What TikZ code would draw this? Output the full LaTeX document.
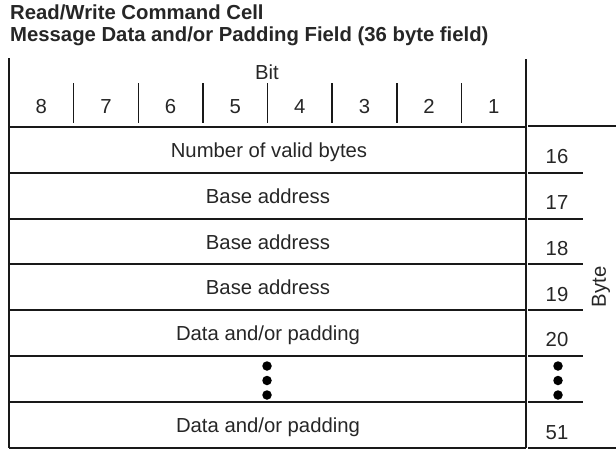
\documentclass[tikz,border=0pt]{standalone}
\usepackage{fontspec}
\setmainfont{Liberation Sans}
\begin{document}
\begin{tikzpicture}[x=1pt,y=-1pt,
  ln/.style={line width=1.5pt,black!90},
  thin/.style={line width=1.2pt,black!90},
  txt/.style={font=\fontsize{20.3}{22}\selectfont,inner sep=0pt,anchor=base,text=black!85},
  ttl/.style={font=\fontsize{20.3}{22}\selectfont\bfseries,inner sep=0pt,anchor=base west,text=black!85},
  dot/.style={circle,fill=black,inner sep=0pt,minimum size=9.5pt}]
\useasboundingbox (0,0) rectangle (616,450);
% titles
\node[ttl] (t1) at (10,19) {Read/Write Command Cell};
\node[ttl] (t2) at (10,41) {Message Data and/or Padding Field (36 byte field)};
% outer verticals
\draw[ln] (9,58) -- (9,448);
\draw[ln] (526,59) -- (526,448);
% header dividers
\foreach \i in {1,...,7} \draw[ln] ({9+64.625*\i},83) -- ({9+64.625*\i},123);
\node[txt] (bit) at (267,79) {Bit};
\foreach \n [count=\i from 0] in {8,7,6,5,4,3,2,1}
  \node[txt] (b\n) at ({9+64.625*\i+32.3},113) {\n};
% table horizontal lines
\foreach \y in {127,173,219,264,310,356,402,448} \draw[ln] (9,\y) -- (526,\y);
% right column lines
\draw[thin] (528,126) -- (616,126);
\draw[thin] (528,448) -- (616,448);
\foreach \y in {173,219,264,310,356,402} \draw[thin] (528,\y) -- (583,\y);
% row texts
\node[txt] (r1) at (269,157) {Number of valid bytes};
\node[txt] (r2) at (268,203) {Base address};
\node[txt] (r3) at (268,249) {Base address};
\node[txt] (r4) at (268,294) {Base address};
\node[txt] (r5) at (268,340) {Data and/or padding};
\node[txt] (r7) at (268,432) {Data and/or padding};
% byte numbers
\node[txt] (n16) at (557,163) {16};
\node[txt] (n17) at (557,209) {17};
\node[txt] (n18) at (557,255) {18};
\node[txt] (n19) at (557,301) {19};
\node[txt] (n20) at (557,346) {20};
\node[txt] (n51) at (557,439) {51};
\node[txt,rotate=90,anchor=center] (byte) at (601,287) {Byte};
% dots
\foreach \y [count=\k] in {366,380.5,395} {
  \node[dot] (dm\k) at (267,\y) {};
  \node[dot] (dr\k) at (558,\y) {};
}
\end{tikzpicture}
\end{document}
